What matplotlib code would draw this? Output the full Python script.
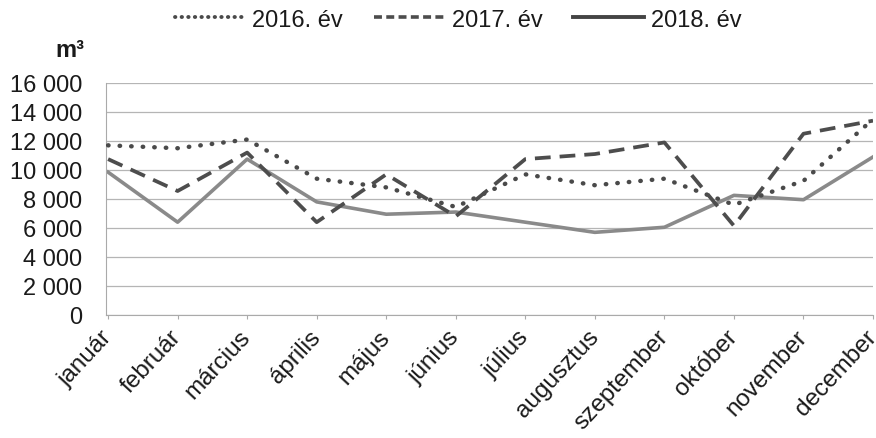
import matplotlib
matplotlib.use("Agg")
import matplotlib.pyplot as plt
from matplotlib.ticker import FuncFormatter
from matplotlib.lines import Line2D

plt.rcParams['font.family'] = ['Liberation Sans', 'DejaVu Sans']

months = ["január", "február", "március", "április", "május", "június",
          "július", "augusztus", "szeptember", "október", "november", "december"]
series_names = ["2016. év", "2017. év", "2018. év"]
v2016 = [11700, 11500, 12100, 9400, 8800, 7450, 9700, 8950, 9400, 7600, 9250, 13500]
v2017 = [10750, 8550, 11200, 6400, 9700, 6800, 10750, 11100, 11900, 6150, 12500, 13400]
v2018 = [9850, 6400, 10750, 7800, 6950, 7100, 6400, 5700, 6050, 8250, 7950, 10900]
yticks = [0, 2000, 4000, 6000, 8000, 10000, 12000, 14000, 16000]

fig = plt.figure(figsize=(8.76, 4.39), dpi=100)
ax = fig.add_axes([0.121, 0.2802, 0.8756, 0.5285])

x = list(range(len(months)))
ax.plot(x, v2016, color="#4a4a4a", lw=3.2, linestyle=(0, (0.1, 2.5)),
        dash_capstyle="round", solid_capstyle="round", zorder=3)
ax.plot(x, v2017, color="#4d4d4d", lw=2.7, linestyle=(0, (4.2, 2.4)), zorder=3)
ax.plot(x, v2018, color="#8a8a8a", lw=2.6, linestyle="-", zorder=2)

ax.set_ylim(0, 16000)
ax.set_xlim(-0.03, 11.0)
ax.set_yticks(yticks)
ax.yaxis.set_major_formatter(FuncFormatter(lambda v, p: f"{int(v):,}".replace(",", " ")))
ax.grid(axis="y", color="#b5b5b5", lw=0.9)
ax.set_axisbelow(True)

for side in ("top", "right"):
    ax.spines[side].set_visible(False)
ax.spines["left"].set_color("#aaaaaa")
ax.spines["bottom"].set_color("#aaaaaa")
ax.tick_params(axis="y", length=0, labelsize=17, pad=17, colors="#1a1a1a")
ax.tick_params(axis="x", length=3, color="#aaaaaa", labelsize=17.5, pad=10, colors="#1a1a1a")
ax.set_xticks(x)
ax.set_xticklabels(months, rotation=47, ha="right", va="center", rotation_mode="anchor")

fig.text(0.063, 0.884, "m³", fontsize=17, fontweight="bold", color="#1a1a1a",
         ha="left", va="center")

handles = [
    Line2D([], [], color="#4a4a4a", lw=2.8, linestyle=(0, (0.1, 1.6)), dash_capstyle="round"),
    Line2D([], [], color="#4d4d4d", lw=2.6, linestyle=(0, (2.2, 1.2))),
    Line2D([], [], color="#444444", lw=2.8, linestyle="-"),
]
fig.legend(handles, series_names, loc="center", bbox_to_anchor=(0.523, 0.953), ncol=3,
           frameon=False, fontsize=17, handlelength=3.0, handletextpad=0.3,
           columnspacing=1.3, labelcolor="#1a1a1a")

fig.savefig("out.png", dpi=100)
